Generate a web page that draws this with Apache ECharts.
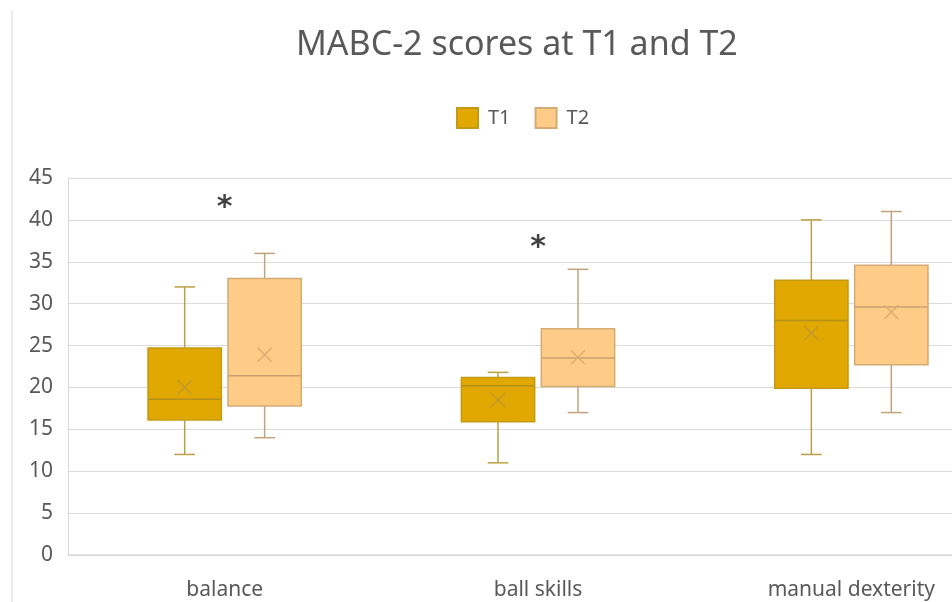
<!DOCTYPE html>
<html lang="en">
  <head>
    <meta charset="UTF-8" />
    <title>MABC-2 scores at T1 and T2</title>
    <script src="https://cdn.jsdelivr.net/npm/echarts@6/dist/echarts.min.js"></script>
  </head>
  <body style="margin: 0">
    <div id="chart" style="width: 952px; height: 602px"></div>
  </body>
  <script>
    const categories = ['balance', 'ball skills', 'manual dexterity']

    // T1 (min, Q1, median, Q3, max, mean) per category
    const t1Min = [12, 11, 12]
    const t1Q1 = [16.1, 15.9, 19.9]
    const t1Median = [18.6, 20.2, 28.0]
    const t1Q3 = [24.7, 21.2, 32.8]
    const t1Max = [32, 21.8, 40]
    const t1Mean = [20.0, 18.5, 26.5]

    // T2
    const t2Min = [14, 17, 17]
    const t2Q1 = [17.8, 20.1, 22.7]
    const t2Median = [21.4, 23.5, 29.6]
    const t2Q3 = [33.0, 27.0, 34.6]
    const t2Max = [36, 34.1, 41]
    const t2Mean = [23.9, 23.6, 29.0]

    // significance markers
    const stars = [42.2, 37.5, null]

    const yTicks = { min: 0, max: 45, interval: 5 }

    const textColor = '#595959'
    const fontFamily = '"Noto Sans", sans-serif'

    function rows(mins, q1s, meds, q3s, maxs, means) {
      return categories.map((c, i) => [i, mins[i], q1s[i], meds[i], q3s[i], maxs[i], means[i]])
    }

    // draws one box per category, shifted inside the band by `offset` (fraction of band)
    function boxRenderer(offset, colors) {
      return function (params, api) {
        const cat = api.value(0)
        const band = api.size([1, 0])[0]
        const cx = api.coord([cat, 0])[0] + band * offset
        const half = band * 0.117
        const cap = band * 0.033
        const y = dim => api.coord([cat, api.value(dim)])[1]
        const yMin = y(1)
        const yQ1 = y(2)
        const yMed = y(3)
        const yQ3 = y(4)
        const yMax = y(5)
        const yMean = y(6)
        const m = 7
        const whisker = { stroke: colors.whisker, lineWidth: 1.5 }
        const meanStyle = { stroke: colors.mean, lineWidth: 1.5 }
        return {
          type: 'group',
          children: [
            { type: 'line', shape: { x1: cx, y1: yMax, x2: cx, y2: yQ3 }, style: whisker },
            { type: 'line', shape: { x1: cx, y1: yQ1, x2: cx, y2: yMin }, style: whisker },
            { type: 'line', shape: { x1: cx - cap, y1: yMax, x2: cx + cap, y2: yMax }, style: whisker },
            { type: 'line', shape: { x1: cx - cap, y1: yMin, x2: cx + cap, y2: yMin }, style: whisker },
            {
              type: 'rect',
              shape: { x: cx - half, y: yQ3, width: half * 2, height: yQ1 - yQ3 },
              style: { fill: colors.fill, stroke: colors.border, lineWidth: 1.5 }
            },
            { type: 'line', shape: { x1: cx - half, y1: yMed, x2: cx + half, y2: yMed }, style: { stroke: colors.median, lineWidth: 1.5 } },
            { type: 'line', shape: { x1: cx - m, y1: yMean - m, x2: cx + m, y2: yMean + m }, style: meanStyle },
            { type: 'line', shape: { x1: cx - m, y1: yMean + m, x2: cx + m, y2: yMean - m }, style: meanStyle }
          ]
        }
      }
    }

    const t1Colors = { fill: '#e0a800', border: '#c49a14', whisker: '#bba044', median: '#b58f1c', mean: '#c4982c' }
    const t2Colors = { fill: '#ffcc88', border: '#d3ab74', whisker: '#bfa47c', median: '#c9a170', mean: '#dfac70' }

    const chart = echarts.init(document.getElementById('chart'))

    const option = {
      backgroundColor: '#fff',
      animation: false,
      title: {
        text: 'MABC-2 scores at T1 and T2',
        left: 296,
        top: 28,
        padding: 0,
        textStyle: { color: textColor, fontSize: 34, fontWeight: 'normal', fontFamily: fontFamily }
      },
      legend: {
        data: ['T1', 'T2'],
        left: 456,
        top: 107,
        padding: 0,
        icon: 'rect',
        itemWidth: 21,
        itemHeight: 20,
        itemGap: 24,
        textStyle: { color: textColor, fontSize: 20, fontFamily: fontFamily, padding: [0, 0, 0, 5] }
      },
      // plot runs past the right edge of the picture, as in the reference crop
      grid: { left: 68, width: 940, top: 178, bottom: 47, outerBoundsMode: 'none', containLabel: false },
      xAxis: {
        type: 'category',
        data: categories,
        axisLine: { lineStyle: { color: '#d9d9d9', width: 1.5 } },
        axisTick: { show: false },
        axisLabel: { color: textColor, fontSize: 21, fontFamily: fontFamily, margin: 25 }
      },
      yAxis: {
        type: 'value',
        min: yTicks.min,
        max: yTicks.max,
        interval: yTicks.interval,
        axisLine: { show: true, lineStyle: { color: '#d9d9d9' } },
        axisTick: { show: false },
        splitLine: { lineStyle: { color: '#dcdcdc', width: 1.2 } },
        axisLabel: { color: textColor, fontSize: 21, fontFamily: fontFamily, margin: 15 }
      },
      graphic: [
        { type: 'line', shape: { x1: 12, y1: 10, x2: 12, y2: 602 }, style: { stroke: '#e6e6e6', lineWidth: 1.5 } }
      ],
      series: [
        {
          name: 'T1',
          type: 'custom',
          itemStyle: { color: t1Colors.fill, borderColor: t1Colors.border, borderWidth: 1 },
          renderItem: boxRenderer(-0.1276, t1Colors),
          encode: { x: 0, y: [1, 2, 3, 4, 5, 6] },
          data: rows(t1Min, t1Q1, t1Median, t1Q3, t1Max, t1Mean)
        },
        {
          name: 'T2',
          type: 'custom',
          itemStyle: { color: t2Colors.fill, borderColor: t2Colors.border, borderWidth: 1 },
          renderItem: boxRenderer(0.1276, t2Colors),
          encode: { x: 0, y: [1, 2, 3, 4, 5, 6] },
          data: rows(t2Min, t2Q1, t2Median, t2Q3, t2Max, t2Mean)
        },
        {
          name: 'significance',
          type: 'scatter',
          symbolSize: 0,
          silent: true,
          data: stars.map(v => (v == null ? '-' : v)),
          label: {
            show: true,
            position: 'inside',
            formatter: '*',
            offset: [0, 7],
            color: '#111',
            fontSize: 30,
            fontWeight: 'bold',
            fontFamily: '"DejaVu Sans", sans-serif'
          }
        }
      ]
    }
    chart.setOption(option)
  </script>
</html>
